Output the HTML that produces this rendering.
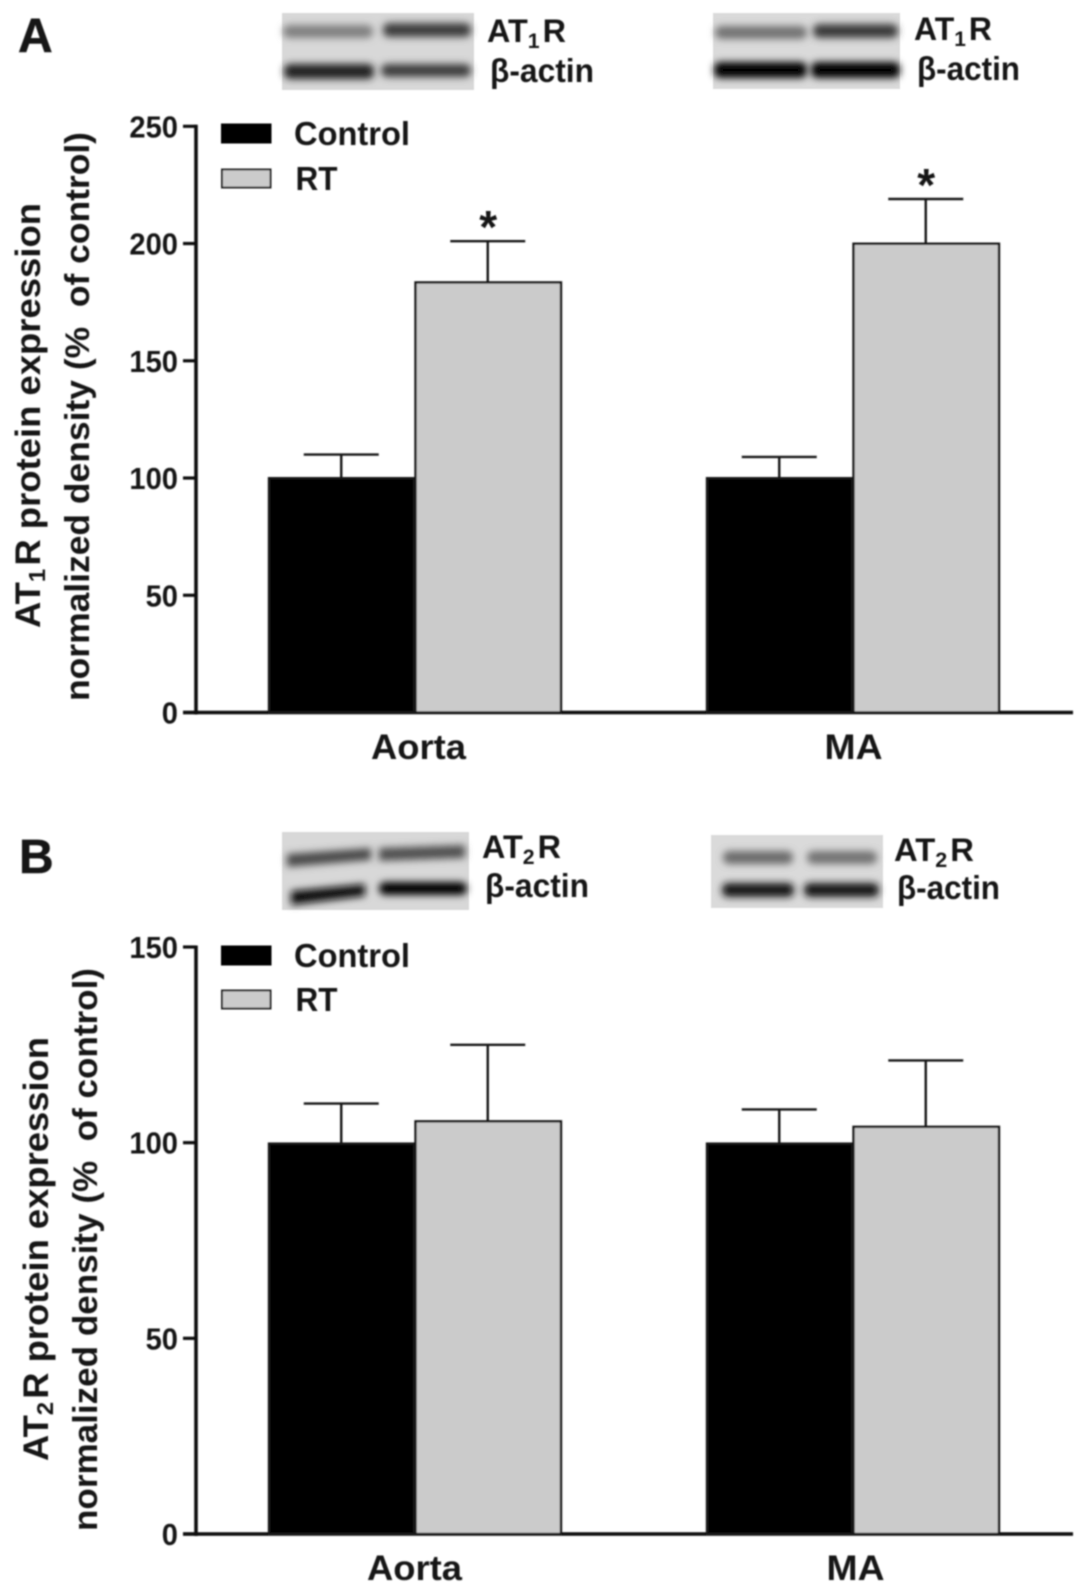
<!DOCTYPE html>
<html lang="en">
<head>
<meta charset="utf-8">
<title>AT1R and AT2R protein expression</title>
<style>
html,body{margin:0;padding:0;background:#fff;}
svg{display:block;}
text{font-family:"Liberation Sans",Arial,sans-serif;font-weight:700;fill:#141414;}
</style>
</head>
<body>
<svg id="figure" xmlns="http://www.w3.org/2000/svg" width="1087" height="1593" viewBox="0 0 1087 1593">
<defs>
<filter id="soft" x="-5%" y="-5%" width="110%" height="110%"><feGaussianBlur stdDeviation="0.7"/></filter>
<filter id="band" x="-20%" y="-100%" width="140%" height="300%"><feGaussianBlur stdDeviation="3.6"/></filter>
</defs>
<rect width="1087" height="1593" fill="#fff"/>
<g id="root" filter="url(#soft)">
  <text x="18" y="52" font-size="48" stroke="#141414" stroke-width="0.5">A</text>
  <text x="19" y="873" font-size="48" stroke="#141414" stroke-width="0.5">B</text>

  <g>
    <rect x="282" y="13" width="192" height="77" fill="#d8d8d8"/>
    <rect x="283" y="25" width="90" height="13" rx="6" fill="#808080" filter="url(#band)"/>
    <rect x="383" y="23" width="88" height="14" rx="6" fill="#3c3c3c" filter="url(#band)"/>
    <rect x="284" y="64" width="90" height="15" rx="6" fill="#222" filter="url(#band)"/>
    <rect x="381" y="64" width="90" height="13" rx="6" fill="#3e3e3e" filter="url(#band)"/>
  </g>
  <g>
    <rect x="713" y="13" width="187" height="76" fill="#dadada"/>
    <rect x="715" y="26" width="92" height="13" rx="6" fill="#727272" filter="url(#band)"/>
    <rect x="813" y="24" width="85" height="14" rx="6" fill="#3a3a3a" filter="url(#band)"/>
    <rect x="714" y="62" width="93" height="16" rx="6" fill="#000" filter="url(#band)"/>
    <rect x="811" y="62" width="89" height="16" rx="6" fill="#000" filter="url(#band)"/>
  </g>
  <g>
    <rect x="282" y="832" width="187" height="78" fill="#d8d8d8"/>
    <path d="M287 854 L371 848 L371 860 L287 867 Z" fill="#484848" filter="url(#band)"/>
    <path d="M379 848 L465 845 L465 858 L379 861 Z" fill="#505050" filter="url(#band)"/>
    <path d="M291 891 L365 884 L365 896 L291 905 Z" fill="#0c0c0c" filter="url(#band)"/>
    <rect x="379" y="882" width="88" height="13" rx="6" fill="#060606" filter="url(#band)"/>
  </g>
  <g>
    <rect x="711" y="835" width="172" height="73" fill="#dadada"/>
    <rect x="723" y="851" width="70" height="13" rx="6" fill="#6a6a6a" filter="url(#band)"/>
    <rect x="807" y="851" width="70" height="13" rx="6" fill="#727272" filter="url(#band)"/>
    <rect x="722" y="883" width="72" height="14" rx="6" fill="#141414" filter="url(#band)"/>
    <rect x="804" y="883" width="75" height="14" rx="6" fill="#141414" filter="url(#band)"/>
  </g>

  <text x="487" y="42" font-size="32" textLength="79" lengthAdjust="spacingAndGlyphs">AT<tspan font-size="21" dy="6">1</tspan><tspan dy="-6" dx="3">R</tspan></text>
  <text x="490" y="82" font-size="33" textLength="104" lengthAdjust="spacingAndGlyphs">β-actin</text>
  <text x="914" y="40" font-size="32" textLength="78" lengthAdjust="spacingAndGlyphs">AT<tspan font-size="21" dy="6">1</tspan><tspan dy="-6" dx="3">R</tspan></text>
  <text x="917" y="80" font-size="33" textLength="103" lengthAdjust="spacingAndGlyphs">β-actin</text>
  <text x="482" y="858" font-size="32" textLength="79" lengthAdjust="spacingAndGlyphs">AT<tspan font-size="21" dy="6">2</tspan><tspan dy="-6" dx="3">R</tspan></text>
  <text x="485" y="897" font-size="33" textLength="104" lengthAdjust="spacingAndGlyphs">β-actin</text>
  <text x="894" y="861" font-size="32" textLength="80" lengthAdjust="spacingAndGlyphs">AT<tspan font-size="21" dy="6">2</tspan><tspan dy="-6" dx="3">R</tspan></text>
  <text x="897" y="899" font-size="33" textLength="103" lengthAdjust="spacingAndGlyphs">β-actin</text>

  <text transform="translate(40,628) rotate(-90)" font-size="35" textLength="425" lengthAdjust="spacingAndGlyphs">AT<tspan font-size="23" dy="5">1</tspan><tspan dy="-5" dx="3">R protein expression</tspan></text>
  <text transform="translate(89,701) rotate(-90)" font-size="34" textLength="569" lengthAdjust="spacingAndGlyphs" xml:space="preserve">normalized density (%  of control)</text>
  <text transform="translate(48,1461) rotate(-90)" font-size="35" textLength="424" lengthAdjust="spacingAndGlyphs">AT<tspan font-size="23" dy="5">2</tspan><tspan dy="-5" dx="3">R protein expression</tspan></text>
  <text transform="translate(97,1531) rotate(-90)" font-size="34" textLength="563" lengthAdjust="spacingAndGlyphs" xml:space="preserve">normalized density (%  of control)</text>

  <g id="panel-a"></g>
  <g id="panel-b"></g>
</g>
</svg>
<script>
const categories = ['Aorta', 'MA'];
const seriesNames = ['Control', 'RT'];
const panelATicks = [0, 50, 100, 150, 200, 250];
const panelAControl = [100, 100];
const panelAControlUpper = [110, 109];
const panelART = [183.5, 200];
const panelARTUpper = [201, 219];
const panelASignificant = ['*', '*'];
const panelBTicks = [0, 50, 100, 150];
const panelBControl = [100, 100];
const panelBControlUpper = [110, 108.5];
const panelBRT = [105.7, 104.3];
const panelBRTUpper = [125, 121];
const panelBSignificant = ['', ''];

const SVG_NS = 'http://www.w3.org/2000/svg';
const INK = '#161616';

function make(parent, tag, attrs, text) {
  const el = document.createElementNS(SVG_NS, tag);
  for (const k in attrs) el.setAttribute(k, attrs[k]);
  if (text !== undefined) el.textContent = text;
  parent.appendChild(el);
  return el;
}

function xBar(groupIndex, seriesIndex) {
  return 268 + groupIndex * 438 + seriesIndex * 146.5;
}

function yScale(v, domainMax, y0, yTop) {
  return y0 - (v / domainMax) * (y0 - yTop);
}

function drawPanel(host, cfg) {
  const domainMax = cfg.ticks[cfg.ticks.length - 1];
  const y = function (v) { return yScale(v, domainMax, cfg.y0, cfg.yTop); };
  const barW = 146.5;

  const yAxis = make(host, 'line', { x1: 196, x2: 196, y1: y(domainMax) - 1.5, y2: cfg.y0 + 2, stroke: '#0c0c0c', 'stroke-width': 3.6 });
  
  
  const xAxis = make(host, 'line', { x1: 183, x2: 1073, y1: cfg.y0, y2: cfg.y0, stroke: '#0c0c0c', 'stroke-width': 3.6 });
  
  

  cfg.ticks.forEach(function (t) {
    const tick = make(host, 'line', { x1: 183, x2: 196, y1: y(t), y2: y(t), stroke: '#0c0c0c', 'stroke-width': 3.2 });
    
    
    const label = make(host, 'text', {
      x: 178, y: y(t) + 11, 'font-size': 31, 'text-anchor': 'end',
      textLength: String(t).length * 16.2, lengthAdjust: 'spacingAndGlyphs'
    }, String(t));
    
    
  });

  categories.forEach(function (cat, i) {
    [[cfg.control, cfg.controlUpper, '#000'], [cfg.rt, cfg.rtUpper, '#cbcbcb']].forEach(function (s, si) {
      const left = xBar(i, si);
      const cx = left + barW / 2;
      const barTop = y(s[0][i]) + cfg.barInset;
      const err = make(host, 'line', { x1: cx, x2: cx, y1: barTop, y2: y(s[1][i]), stroke: INK, 'stroke-width': 2.4 });
      
      
      const cap = make(host, 'line', { x1: cx - 37.5, x2: cx + 37.5, y1: y(s[1][i]), y2: y(s[1][i]), stroke: INK, 'stroke-width': 2.4 });
      
      
      const bar = make(host, 'rect', { x: left + 1, y: barTop, width: barW - 1, height: cfg.y0 - barTop, fill: s[2], stroke: INK, 'stroke-width': 2.4 });
      
      
      if (si === 1 && cfg.significant[i]) {
        const star = make(host, 'text', { x: cx + 0.5, y: y(s[1][i]) + 2, 'font-size': 46, 'text-anchor': 'middle' }, cfg.significant[i]);
        
        
      }
    });
    const label = make(host, 'text', {
      x: xBar(i, 1) + cfg.labelDx[i], y: cfg.labelY, 'font-size': 35, 'text-anchor': 'middle',
      textLength: i === 0 ? 95 : 58, lengthAdjust: 'spacingAndGlyphs'
    }, cat);
    
    
  });

  seriesNames.forEach(function (name, i) {
    const top = cfg.legendTop[i];
    const swatch = make(host, 'rect', { x: 222, y: top, width: 48.5, height: 18, fill: i === 0 ? '#000' : '#cbcbcb', stroke: i === 0 ? '#000' : '#222', 'stroke-width': 2 });
    
    
    const label = make(host, 'text', {
      x: i === 0 ? 294 : 295.5, y: top + 20.5, 'font-size': 33,
      textLength: i === 0 ? 116 : 42, lengthAdjust: 'spacingAndGlyphs'
    }, name);
    
    
  });
}

drawPanel(document.getElementById('panel-a'), {
  ticks: panelATicks, control: panelAControl, controlUpper: panelAControlUpper,
  rt: panelART, rtUpper: panelARTUpper, significant: panelASignificant,
  y0: 712.5, yTop: 126.3, barInset: 0.2, labelY: 759, labelDx: [4, 1], legendTop: [124.5, 169.5]
});
drawPanel(document.getElementById('panel-b'), {
  ticks: panelBTicks, control: panelBControl, controlUpper: panelBControlUpper,
  rt: panelBRT, rtUpper: panelBRTUpper, significant: panelBSignificant,
  y0: 1534, yTop: 947, barInset: 1, labelY: 1580, labelDx: [0, 3], legendTop: [946.5, 990.5]
});
</script>
</body>
</html>
